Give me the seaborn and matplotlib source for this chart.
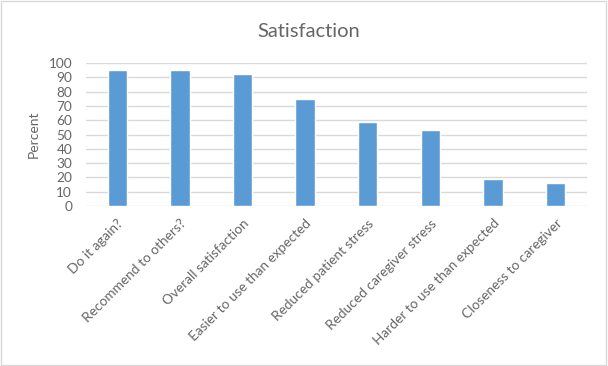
import pandas as pd
import matplotlib
matplotlib.use("Agg")
import matplotlib.pyplot as plt
import seaborn as sns
from matplotlib.patches import Rectangle

categories = ["Do it again?", "Recommend to others?", "Overall satisfaction",
              "Easier to use than expected", "Reduced patient stress",
              "Reduced caregiver stress", "Harder to use than expected",
              "Closeness to caregiver"]
percent = [95, 95, 92, 75, 59, 53, 19, 16]
yticks = list(range(0, 101, 10))

sns.set_style("white")
plt.rcParams["font.family"] = ["Lato", "DejaVu Sans"]

df = pd.DataFrame({"item": categories, "pct": percent})

fig = plt.figure(figsize=(6.08, 3.66), dpi=100)
ax = fig.add_axes([0.1414, 0.437, 0.824, 0.391])
sns.barplot(data=df, x="item", y="pct", color="#5B9BD5", saturation=1,
            width=0.31, ax=ax, zorder=3)

ax.set_ylim(0, 100)
ax.set_yticks(yticks)
ax.set_xlim(-0.5, len(categories) - 0.5)
ax.grid(axis="y", color="#D9D9D9", linewidth=1, zorder=0)
for s in ax.spines.values():
    s.set_visible(False)
ax.tick_params(axis="both", length=0, colors="#666666", labelsize=9.8)
ax.tick_params(axis="y", pad=10)
ax.tick_params(axis="x", pad=8)
ax.set_xticks(range(len(categories)))
ax.set_xticklabels(categories, rotation=45, ha="right", va="top",
                   rotation_mode="anchor")
ax.set_xlabel("")
ax.set_ylabel("Percent", color="#666666", fontsize=10, labelpad=6)
fig.text(0.507, 0.915, "Satisfaction", ha="center", va="center",
         fontsize=14.5, color="#666666")

fig.patches.append(Rectangle((0.002, 0.003), 0.995, 0.994, transform=fig.transFigure,
                             fill=False, edgecolor="#D9D9D9", linewidth=1))

fig.savefig("out.png", dpi=100)
